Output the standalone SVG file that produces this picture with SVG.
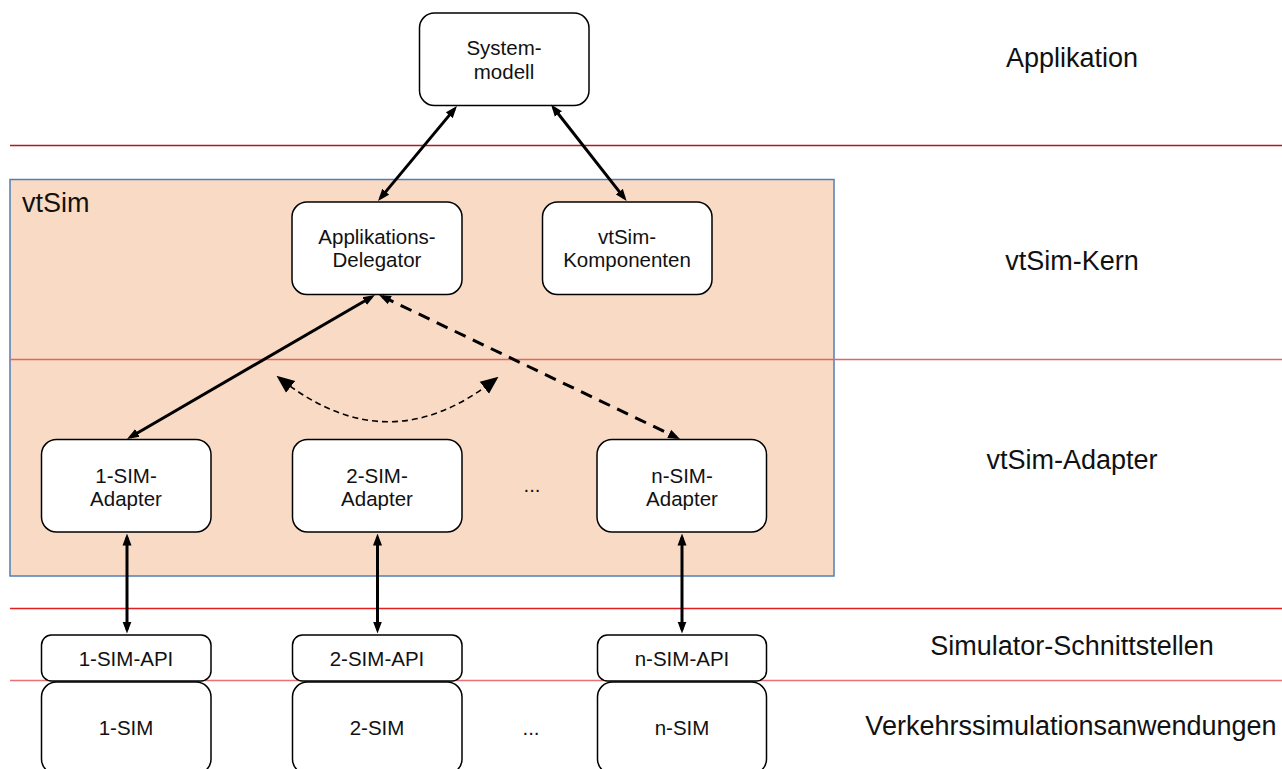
<svg xmlns="http://www.w3.org/2000/svg" width="1282" height="769" viewBox="0 0 1282 769">
<style>
.node rect{fill:#ffffff;stroke:#000000;stroke-width:1.5}
.t{font-family:"Liberation Sans",Arial,Helvetica,sans-serif;font-size:20.5px;fill:#111111;text-anchor:middle}
.lbl{font-family:"Liberation Sans",Arial,Helvetica,sans-serif;font-size:27px;fill:#111111;text-anchor:middle}
.conn line,.conn path{fill:none;stroke:#000000}
.solid{stroke-width:3}
.dash{stroke-width:3;stroke-dasharray:12 8}
.thin{stroke-width:1.6;stroke-dasharray:6 4}
</style>
<defs>
<marker id="ah" markerUnits="userSpaceOnUse" markerWidth="12" markerHeight="10" refX="8" refY="4.5" orient="auto-start-reverse" viewBox="0 0 12 9">
<path d="M0,0 L12,4.5 L0,9 z" fill="#000000"/>
</marker>
<marker id="ahb" markerUnits="userSpaceOnUse" markerWidth="18" markerHeight="16" refX="11" refY="7.5" orient="auto-start-reverse" viewBox="0 0 18 15">
<path d="M0,0 L18,7.5 L0,15 z" fill="#000000"/>
</marker>
</defs>
<rect width="1282" height="769" fill="#ffffff"/>

<g id="vtSim-container">
<rect x="10" y="179.5" width="824" height="396.5" fill="#f9dbc5" stroke="#4f7fb8" stroke-width="1.5"/>
<text x="22" y="211.5" class="lbl" style="text-anchor:start">vtSim</text>
</g>

<g id="layer-lines" stroke-width="1.5">
<line x1="10" y1="145.5" x2="1282" y2="145.5" stroke="#b01a1a"/>
<line x1="10" y1="359.5" x2="1282" y2="359.5" stroke="#e26560"/>
<line x1="10" y1="608.5" x2="1282" y2="608.5" stroke="#e01f1f"/>
<line x1="10" y1="680.5" x2="1282" y2="680.5" stroke="#e87272"/>
</g>

<g id="layer-labels">
<text x="1072" y="67" class="lbl">Applikation</text>
<text x="1072" y="270" class="lbl">vtSim-Kern</text>
<text x="1072" y="469" class="lbl">vtSim-Adapter</text>
<text x="1072" y="655" class="lbl">Simulator-Schnittstellen</text>
<text x="1071" y="735" class="lbl">Verkehrssimulationsanwendungen</text>
</g>

<g id="systemmodell" class="node">
<rect x="419.5" y="13" width="169.5" height="92.5" rx="15"/>
<text x="504" y="55" class="t">System-</text>
<text x="504" y="79" class="t">modell</text>
</g>

<g id="applikations-delegator" class="node">
<rect x="292" y="202" width="170" height="92.5" rx="15"/>
<text x="377" y="244" class="t">Applikations-</text>
<text x="377" y="267" class="t">Delegator</text>
</g>

<g id="vtsim-komponenten" class="node">
<rect x="542.5" y="202" width="169.5" height="92.5" rx="15"/>
<text x="627" y="244" class="t">vtSim-</text>
<text x="627" y="267" class="t">Komponenten</text>
</g>

<g id="adapter-1" class="node">
<rect x="41.5" y="439.5" width="169.5" height="92.5" rx="15"/>
<text x="126" y="483" class="t">1-SIM-</text>
<text x="126" y="506" class="t">Adapter</text>
</g>

<g id="adapter-2" class="node">
<rect x="292.5" y="439.5" width="169.5" height="92.5" rx="15"/>
<text x="377" y="483" class="t">2-SIM-</text>
<text x="377" y="506" class="t">Adapter</text>
</g>

<g id="adapter-ellipsis">
<text x="532" y="492" class="t">...</text>
</g>

<g id="adapter-n" class="node">
<rect x="597" y="439.5" width="169.5" height="92.5" rx="15"/>
<text x="682" y="483" class="t">n-SIM-</text>
<text x="682" y="506" class="t">Adapter</text>
</g>

<g id="api-1" class="node">
<rect x="41.5" y="635" width="169.5" height="46" rx="10"/>
<text x="126" y="666" class="t">1-SIM-API</text>
</g>
<g id="api-2" class="node">
<rect x="292.5" y="635" width="169.5" height="46" rx="10"/>
<text x="377" y="666" class="t">2-SIM-API</text>
</g>
<g id="api-n" class="node">
<rect x="597.5" y="635" width="169" height="46" rx="10"/>
<text x="682" y="666" class="t">n-SIM-API</text>
</g>

<g id="sim-1" class="node">
<rect x="41.5" y="682" width="169.5" height="92" rx="15"/>
<text x="126" y="735" class="t">1-SIM</text>
</g>
<g id="sim-2" class="node">
<rect x="292.5" y="682" width="169.5" height="92" rx="15"/>
<text x="377" y="735" class="t">2-SIM</text>
</g>
<g id="sim-ellipsis">
<text x="531" y="735" class="t">...</text>
</g>
<g id="sim-n" class="node">
<rect x="597.5" y="682" width="169" height="92" rx="15"/>
<text x="682" y="735" class="t">n-SIM</text>
</g>

<g id="connectors" class="conn">
<line class="solid" x1="454.4" y1="109.1" x2="380.6" y2="197.9" marker-start="url(#ah)" marker-end="url(#ah)"/>
<line class="solid" x1="553.5" y1="107.7" x2="624.2" y2="197.9" marker-start="url(#ah)" marker-end="url(#ah)"/>
<line class="solid" x1="371.5" y1="297" x2="130.5" y2="437" marker-start="url(#ah)" marker-end="url(#ah)"/>
<line class="dash" x1="382.6" y1="296.7" x2="676.4" y2="437.3" marker-start="url(#ah)" marker-end="url(#ah)"/>
<path class="thin" d="M282,380 Q388,463 493,381" marker-start="url(#ahb)" marker-end="url(#ahb)"/>
<line class="solid" x1="127" y1="537.5" x2="127" y2="629.5" marker-start="url(#ah)" marker-end="url(#ah)"/>
<line class="solid" x1="377.5" y1="537.5" x2="377.5" y2="629.5" marker-start="url(#ah)" marker-end="url(#ah)"/>
<line class="solid" x1="682" y1="537.5" x2="682" y2="629.5" marker-start="url(#ah)" marker-end="url(#ah)"/>
</g>
</svg>
